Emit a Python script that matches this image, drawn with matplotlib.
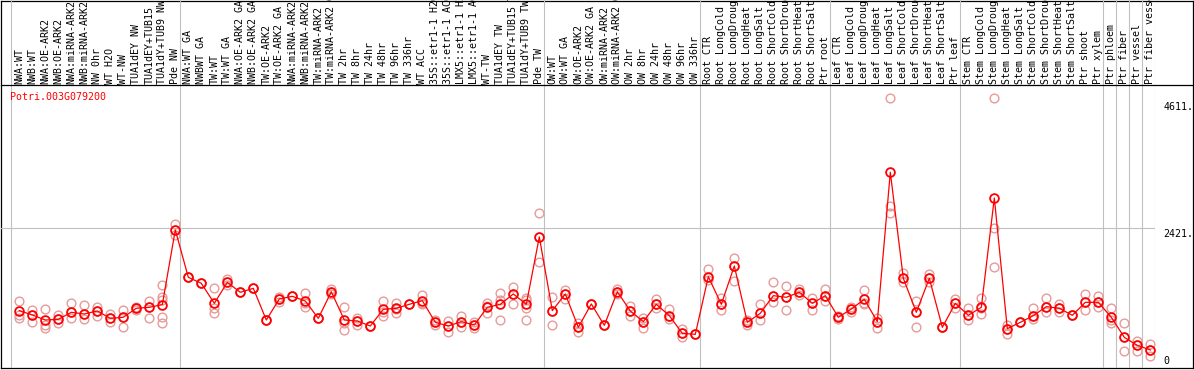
import matplotlib
matplotlib.use("Agg")
import matplotlib.pyplot as plt

W, H = 1194, 370

gene = "Potri.003G079200"

samples = [
    "NWA:WT", "NWB:WT", "NWA:OE-ARK2", "NWB:OE-ARK2", "NWA:miRNA-ARK2", "NWB:miRNA-ARK2",
    "NW 0hr", "WT H2O", "WT-NW", "TUA1dEY NW", "TUA1dEY+TUB15", "TUA1dY+TUB9 NW", "Pde NW",
    "NWA:WT GA", "NWBWT GA", "TW:WT", "TW:WT GA", "NWA:OE-ARK2 GA", "NWB:OE-ARK2 GA",
    "TW:OE-ARK2", "TW:OE-ARK2 GA", "NWA:miRNA-ARK2", "NWB:miRNA-ARK2", "TW:miRNA-ARK2",
    "TW:miRNA-ARK2 GA", "TW 2hr", "TW 8hr", "TW 24hr", "TW 48hr", "TW 96hr", "TW 336hr",
    "WT ACC", "35S::etr1-1 H2O", "35S::etr1-1 ACC", "LMX5::etr1-1 H2O", "LMX5::etr1-1 ACC",
    "WT-TW", "TUA1dEY TW", "TUA1dEY+TUB15 TW", "TUA1dY+TUB9 TW", "Pde TW",
    "OW:WT", "OW:WT GA", "OW:OE-ARK2", "OW:OE-ARK2 GA", "OW:miRNA-ARK2", "OW:miRNA-ARK2 GA",
    "OW 2hr", "OW 8hr", "OW 24hr", "OW 48hr", "OW 96hr", "OW 336hr",
    "Root CTR", "Root LongCold", "Root LongDrought", "Root LongHeat", "Root LongSalt",
    "Root ShortCold", "Root ShortDrought", "Root ShortHeat", "Root ShortSalt", "Ptr root",
    "Leaf CTR", "Leaf LongCold", "Leaf LongDrought", "Leaf LongHeat", "Leaf LongSalt",
    "Leaf ShortCold", "Leaf ShortDrought", "Leaf ShortHeat", "Leaf ShortSalt", "Ptr leaf",
    "Stem CTR", "Stem LongCold", "Stem LongDrought", "Stem LongHeat", "Stem LongSalt",
    "Stem ShortCold", "Stem ShortDrought", "Stem ShortHeat", "Stem ShortSalt", "Ptr shoot",
    "Ptr xylem", "Ptr phloem", "Ptr fiber", "Ptr vessel", "Ptr fiber vessel",
]

# first index of each group (last entry = number of samples)
group_starts = [0, 13, 41, 53, 63, 73, 84, 85, 86, 87, 88]

means = [
    995, 920, 833, 845, 966, 937, 989, 862, 880, 1035, 1052, 1098, 2387,
    1570, 1466, 1121, 1483, 1311, 1380, 833, 1196, 1242, 1161, 862, 1322, 833,
    816, 730, 1018, 1035, 1104, 1167, 793, 730, 805, 747, 1052, 1104, 1282, 1104, 2266,
    995, 1282, 707, 1110, 741, 1322, 989, 805, 1104, 908, 603, 586,
    1581, 1104, 1765, 793, 949, 1253, 1225, 1311, 1121, 1253,
    880, 1023, 1190, 805, 3382, 1553, 966, 1553, 707, 1121,
    914, 1052, 2939, 684, 793, 908, 1064, 1035, 914, 1138, 1138,
    880, 534, 396, 316,
]

replicates = [
    [1161, 920, 862], [1006, 805, 920], [1023, 747, 690], [920, 787, 845],
    [1121, 874, 966], [1092, 856, 937], [1064, 902, 989], [932, 793, 862],
    [1006, 718, 880], [1064, 1006, 1035], [1161, 874, 1052],
    [1437, 1236, 1179, 891, 776], [2484, 2300, 2387],
    [1570, 1570, 1570], [1466, 1466, 1466], [1380, 1035, 960], [1541, 1483, 1430],
    [1311, 1311, 1311], [1380, 1380, 1380], [833, 833, 833], [1236, 1150, 1196],
    [1242, 1242, 1242], [1294, 1121, 1064], [862, 862, 862], [1363, 1322, 1282],
    [1052, 661, 776], [874, 747, 816], [730, 730, 730], [1161, 908, 977],
    [1133, 960, 1018], [1104, 1104, 1104], [1265, 1121, 1110], [833, 747, 793],
    [822, 632, 730], [902, 718, 805], [793, 690, 747], [1121, 949, 1075],
    [1294, 833, 1185], [1409, 1104, 1282], [1207, 1170, 1035, 833], [2674, 1840, 2266],
    [1225, 747, 995], [1351, 1190, 1282], [776, 632, 707], [1110, 1110, 1110],
    [741, 741, 741], [1363, 1322, 1282], [1081, 902, 989], [862, 701, 805],
    [1196, 1035, 1104], [1023, 845, 908], [678, 546, 603], [586, 586, 586],
    [1708, 1524, 1581], [1207, 1006, 1104], [1898, 1512, 1765], [833, 747, 793],
    [1104, 833, 949], [1483, 1150, 1253], [1420, 1006, 1236], [1368, 1265, 1311],
    [1207, 1006, 1121], [1363, 1167, 1253],
    [902, 845, 880], [1064, 977, 1023], [1351, 1104, 1121], [874, 690, 805],
    [4659, 2801, 2686], [1639, 1495, 1553], [1167, 707, 966], [1622, 1553, 1495],
    [707, 707, 707], [1196, 1035, 1121],
    [1035, 833, 914], [1207, 937, 1035], [4659, 2415, 1742], [747, 586, 684],
    [793, 793, 793], [1035, 845, 908], [1207, 977, 1064], [1104, 1035, 977],
    [914, 914, 914], [1282, 1006, 1138], [1248, 1064, 1138],
    [1035, 787, 833], [776, 304, 534], [477, 304, 396], [419, 218, 316],
]

ytick_vals = [0, 2421, 4611]
ytick_text = ["0", "2421.", "4611."]

RED = "#ff0000"
PINK = "#e89a9a"
GRID = "#c0c0c0"
plt.rcParams["font.family"] = ["DejaVu Sans Mono"]
FS = 7.2


def px_axes(fig, l, t, r, b):
    return fig.add_axes([l / W, 1 - b / H, (r - l) / W, (b - t) / H])


fig = plt.figure(figsize=(W / 100, H / 100), dpi=100)

# outer frame
frame = px_axes(fig, 1, 0.5, 1193, 368)
frame.set_xticks([])
frame.set_yticks([])
for s in frame.spines.values():
    s.set_color("black")
    s.set_linewidth(0.9)
frame.patch.set_alpha(0)

n = len(samples)
x = list(range(n))
xlim = (-1.408, 87.36)

# header with sample names
head = px_axes(fig, 1, 0, 1155, 85)
head.set_xlim(*xlim)
head.set_ylim(0, 1)
head.axis("off")
for i, name in enumerate(samples):
    head.text(i, 0.01, name, rotation=90, ha="center", va="bottom",
              fontsize=FS, color="black", clip_on=True)
for k in group_starts:
    head.axvline(k - 0.64, color=GRID, lw=0.8)
fig.add_artist(plt.Line2D([1 / W, 1193 / W], [1 - 85 / H, 1 - 85 / H],
                          color="black", lw=0.9))

# expression plot
ax = px_axes(fig, 1, 86, 1155, 368.3)
ax.set_xlim(*xlim)
ax.set_ylim(0, 4870)
ax.set_xticks([])
ax.set_yticks([])
for s in ["top", "right", "left", "bottom"]:
    ax.spines[s].set_visible(False)
ax.patch.set_alpha(0)

for k in group_starts:
    ax.axvline(k - 0.64, color=GRID, lw=0.8, zorder=1)
ax.axhline(ytick_vals[1], color=GRID, lw=0.8, zorder=1, xmin=-0.01)

for i, reps in enumerate(replicates):
    ax.plot([i] * len(reps), reps, "o", ms=6.3, mfc="none", mec=PINK, mew=1.0,
            zorder=2, clip_on=False)
ax.plot(x, means, "-", color=RED, lw=0.9, zorder=3)
ax.plot(x, means, "o", ms=6.3, mfc="none", mec=RED, mew=1.3, zorder=4)

ax.text(9 / 1154, 1 - 6 / 282, gene, transform=ax.transAxes, color=RED,
        fontsize=FS, ha="left", va="top")

ytr = ax.get_yaxis_transform()
for v, t in zip(ytick_vals, ytick_text):
    if v == 0:
        ax.annotate(t, (1.007, v), xycoords=ytr, xytext=(0, 2),
                    textcoords="offset pixels", ha="left", va="bottom",
                    fontsize=FS, annotation_clip=False)
    else:
        ax.annotate(t, (1.007, v), xycoords=ytr, xytext=(0, -1),
                    textcoords="offset pixels", ha="left", va="top",
                    fontsize=FS, annotation_clip=False)

fig.savefig("out.png", dpi=100)
